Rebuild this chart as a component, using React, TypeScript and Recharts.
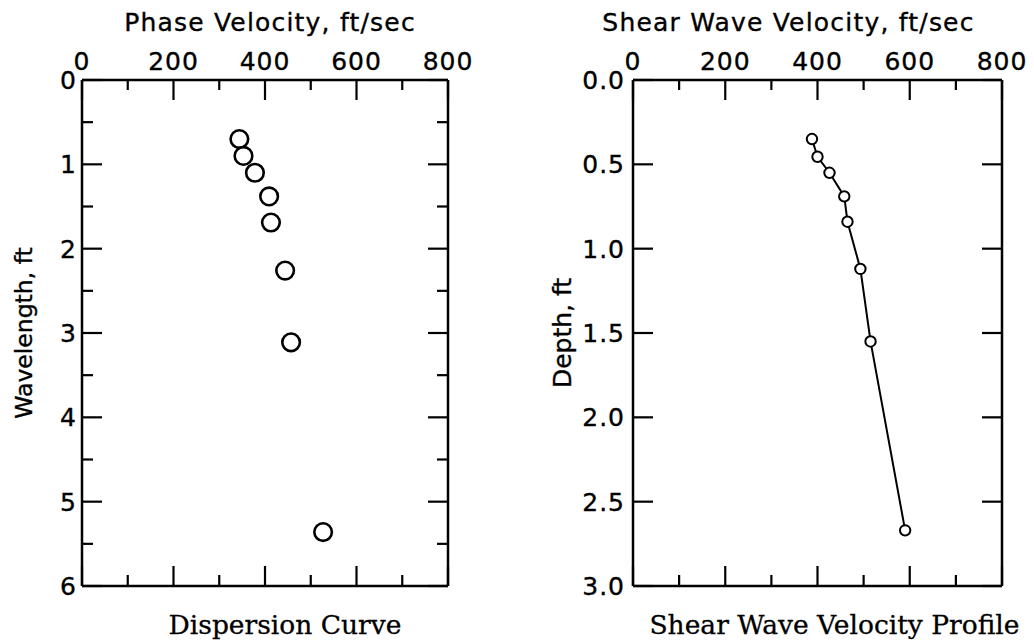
import React from 'react';
import { ScatterChart, Scatter, XAxis, YAxis, Label } from 'recharts';

// ---- data ----
const velocityTicks = [0, 200, 400, 600, 800];
const velocityMinorTicks = [100, 300, 500, 700];
const wavelengthTicks = [0, 1, 2, 3, 4, 5, 6];
const wavelengthMinorTicks = [0.5, 1.5, 2.5, 3.5, 4.5, 5.5];
const depthTicks = [0, 0.5, 1, 1.5, 2, 2.5, 3];

const phaseVelocity = [344, 353, 378, 409, 413, 444, 457, 527];
const wavelength = [0.7, 0.9, 1.1, 1.38, 1.69, 2.26, 3.11, 5.36];

const shearVelocity = [388, 400, 426, 458, 465, 493, 515, 590];
const depth = [0.35, 0.455, 0.55, 0.69, 0.84, 1.12, 1.55, 2.67];

const leftTitle = 'Phase Velocity, ft/sec';
const leftYTitle = 'Wavelength, ft';
const leftCaption = 'Dispersion Curve';
const rightTitle = 'Shear Wave Velocity, ft/sec';
const rightYTitle = 'Depth, ft';
const rightCaption = 'Shear Wave Velocity Profile';

const dispersionData = phaseVelocity.map((v, i) => ({ x: v, y: wavelength[i] }));
const profileData = shearVelocity.map((v, i) => ({ x: v, y: depth[i] }));

const SANS = '"DejaVu Sans", "Liberation Sans", Arial, sans-serif';
const SERIF = '"DejaVu Serif", "Liberation Serif", serif';
const tickStyle = {
  fontSize: 25, fill: '#000', fontFamily: SANS, letterSpacing: 1,
  stroke: '#000', strokeWidth: 0.35,
};
const lineStyle = { stroke: '#000', strokeWidth: 2.5 };
const tickLineStyle = { stroke: '#000', strokeWidth: 2.2 };
const PLOT_TOP = 80;

const NoLabel = () => <g />;
const NoShape = () => <g />;

const topTitle = (text: string, dx: number, baseline: number) => (props: any) => {
  const vb = props.viewBox || {};
  return (
    <text x={vb.x + vb.width / 2 + dx} y={vb.y + baseline} textAnchor="middle"
      fontFamily={SANS} fontSize={25} letterSpacing={1.2} stroke="#000" strokeWidth={0.35}
      fill="#000">{text}</text>
  );
};
const bottomCaption = (text: string, dx: number, baseline: number) => (props: any) => {
  const vb = props.viewBox || {};
  return (
    <text x={vb.x + vb.width / 2 + dx} y={vb.y + baseline} textAnchor="middle"
      fontFamily={SERIF} fontSize={26.5} stroke="#000" strokeWidth={0.3}
      fill="#000">{text}</text>
  );
};
const sideTitle = (text: string, xFromLeft: number, size: number) => (props: any) => {
  const vb = props.viewBox || {};
  const cx = vb.x + xFromLeft;
  const cy = vb.y + vb.height / 2;
  return (
    <text x={cx} y={cy} transform={`rotate(-90, ${cx}, ${cy})`} textAnchor="middle"
      dominantBaseline="central" fontFamily={SANS} fontSize={size} stroke="#000"
      strokeWidth={0.35} fill="#000">{text}</text>
  );
};

const circleShape = (r: number, sw: number) => (props: any) => (
  <circle cx={props.cx} cy={props.cy} r={r} fill="#fff" stroke="#000" strokeWidth={sw} />
);

// Overlay chart whose mirrored bottom axis draws the inward ticks hanging from the top frame line
function TopTickOverlay(props: {
  left: number; width: number; marginLeft: number; marginRight: number;
  len: number; ticks: number[]; data: any[];
}) {
  const p = props;
  return (
    <div style={{ position: 'absolute', left: p.left, top: 0, pointerEvents: 'none' }}>
      <ScatterChart width={p.width} height={PLOT_TOP + p.len}
        margin={{ top: 0, right: p.marginRight, bottom: 0, left: p.marginLeft }}>
        <XAxis xAxisId="t" orientation="bottom" mirror height={1} type="number" dataKey="x"
          domain={[0, 800]} ticks={p.ticks} interval={0} tick={NoLabel} tickSize={p.len}
          tickLine={tickLineStyle} axisLine={false} />
        <YAxis yAxisId="t" hide width={0} type="number" dataKey="y" domain={[0, 10]} />
        <Scatter data={p.data} xAxisId="t" yAxisId="t" shape={NoShape} isAnimationActive={false} />
      </ScatterChart>
    </div>
  );
}

function Panel(props: {
  left: number; width: number; marginRight: number; yAxisWidth: number;
  data: any[]; yDomain: number[]; yTicks: number[]; yMinor: number[] | null;
  yFormat: (v: number) => string; title: any; yTitle: any; caption: any;
  pointR: number; pointStroke: number; withLine: boolean; yTickMargin: number;
}) {
  const p = props;
  const leftMinId = p.yMinor ? 'leftMin' : 'leftMaj';
  const rightMinId = p.yMinor ? 'rightMin' : 'rightMaj';
  return (
    <div style={{ position: 'absolute', left: p.left, top: 0 }}>
      <ScatterChart width={p.width} height={643}
        margin={{ top: 0, right: p.marginRight, bottom: 0, left: 0 }}>
        {/* labelled top axis */}
        <XAxis xAxisId="lbl" orientation="top" type="number" dataKey="x" domain={[0, 800]}
          ticks={velocityTicks} interval={0} height={PLOT_TOP} tickLine={false} axisLine={lineStyle}
          tickSize={0} tickMargin={10} tick={tickStyle}>
          <Label content={p.title} />
        </XAxis>
        {/* bottom caption axis */}
        <XAxis xAxisId="cap" orientation="bottom" type="number" dataKey="x" domain={[0, 800]}
          ticks={velocityTicks} interval={0} height={57} tick={NoLabel} tickLine={false} axisLine={false}>
          <Label content={p.caption} />
        </XAxis>
        {/* inward major / minor ticks, bottom */}
        <XAxis xAxisId="botMaj" orientation="bottom" mirror height={1} type="number" dataKey="x" domain={[0, 800]}
          ticks={velocityTicks} interval={0} tick={NoLabel} tickSize={20}
          tickLine={tickLineStyle} axisLine={lineStyle} />
        <XAxis xAxisId="botMin" orientation="bottom" mirror height={1} type="number" dataKey="x" domain={[0, 800]}
          ticks={velocityMinorTicks} interval={0} tick={NoLabel} tickSize={10}
          tickLine={tickLineStyle} axisLine={false} />

        {/* labelled left axis */}
        <YAxis yAxisId="lbl" orientation="left" type="number" dataKey="y" domain={p.yDomain}
          reversed ticks={p.yTicks} interval={0} width={p.yAxisWidth} tickLine={false}
          axisLine={false} tickSize={0} tickMargin={p.yTickMargin} tick={tickStyle}
          tickFormatter={p.yFormat}>
          <Label content={p.yTitle} />
        </YAxis>
        <YAxis yAxisId="leftMaj" orientation="left" mirror width={1} type="number" dataKey="y" domain={p.yDomain}
          reversed ticks={p.yTicks} interval={0} tick={NoLabel} tickSize={20}
          tickLine={tickLineStyle} axisLine={lineStyle} />
        <YAxis yAxisId="rightMaj" orientation="right" mirror width={1} type="number" dataKey="y" domain={p.yDomain}
          reversed ticks={p.yTicks} interval={0} tick={NoLabel} tickSize={20}
          tickLine={tickLineStyle} axisLine={lineStyle} />
        {p.yMinor ? (
          <YAxis yAxisId="leftMin" orientation="left" mirror width={1} type="number" dataKey="y" domain={p.yDomain}
            reversed ticks={p.yMinor} interval={0} tick={NoLabel} tickSize={10}
            tickLine={tickLineStyle} axisLine={false} />
        ) : null}
        {p.yMinor ? (
          <YAxis yAxisId="rightMin" orientation="right" mirror width={1} type="number" dataKey="y" domain={p.yDomain}
            reversed ticks={p.yMinor} interval={0} tick={NoLabel} tickSize={10}
            tickLine={tickLineStyle} axisLine={false} />
        ) : null}

        {/* invisible series that bind each tick axis to the data */}
        <Scatter data={p.data} xAxisId="botMaj" yAxisId="leftMaj" shape={NoShape} isAnimationActive={false} />
        <Scatter data={p.data} xAxisId="botMin" yAxisId="rightMaj" shape={NoShape} isAnimationActive={false} />
        <Scatter data={p.data} xAxisId="cap" yAxisId={leftMinId} shape={NoShape} isAnimationActive={false} />
        <Scatter data={p.data} xAxisId="cap" yAxisId={rightMinId} shape={NoShape} isAnimationActive={false} />

        <Scatter data={p.data} xAxisId="lbl" yAxisId="lbl"
          shape={circleShape(p.pointR, p.pointStroke)}
          fill="#fff" stroke="#000"
          line={p.withLine ? { stroke: '#000', strokeWidth: 2 } : false}
          lineType="joint" isAnimationActive={false} />
      </ScatterChart>
    </div>
  );
}

export default function App() {
  return (
    <div style={{ position: 'absolute', left: 0, top: 0, width: 1034, height: 643, background: '#fff' }}>
      <Panel left={0} width={500} marginRight={52} yAxisWidth={82}
        data={dispersionData} yDomain={[0, 6]} yTicks={wavelengthTicks} yMinor={wavelengthMinorTicks}
        yFormat={(v: number) => String(v)}
        title={topTitle(leftTitle, 5, 31)} yTitle={sideTitle(leftYTitle, 24, 23.5)}
        caption={bottomCaption(leftCaption, 20, 48)}
        pointR={8.8} pointStroke={2.6} withLine={false} yTickMargin={5} />
      <Panel left={520} width={514} marginRight={32} yAxisWidth={113}
        data={profileData} yDomain={[0, 3]} yTicks={depthTicks} yMinor={null}
        yFormat={(v: number) => v.toFixed(1)}
        title={topTitle(rightTitle, -29, 31)} yTitle={sideTitle(rightYTitle, 42, 25)}
        caption={bottomCaption(rightCaption, 17, 48)}
        pointR={5.2} pointStroke={2} withLine={true} yTickMargin={8} />

      <TopTickOverlay left={0} width={500} marginLeft={82} marginRight={52} len={20}
        ticks={velocityTicks} data={dispersionData} />
      <TopTickOverlay left={0} width={500} marginLeft={82} marginRight={52} len={10}
        ticks={velocityMinorTicks} data={dispersionData} />
      <TopTickOverlay left={520} width={514} marginLeft={113} marginRight={32} len={20}
        ticks={velocityTicks} data={profileData} />
      <TopTickOverlay left={520} width={514} marginLeft={113} marginRight={32} len={10}
        ticks={velocityMinorTicks} data={profileData} />
    </div>
  );
}
